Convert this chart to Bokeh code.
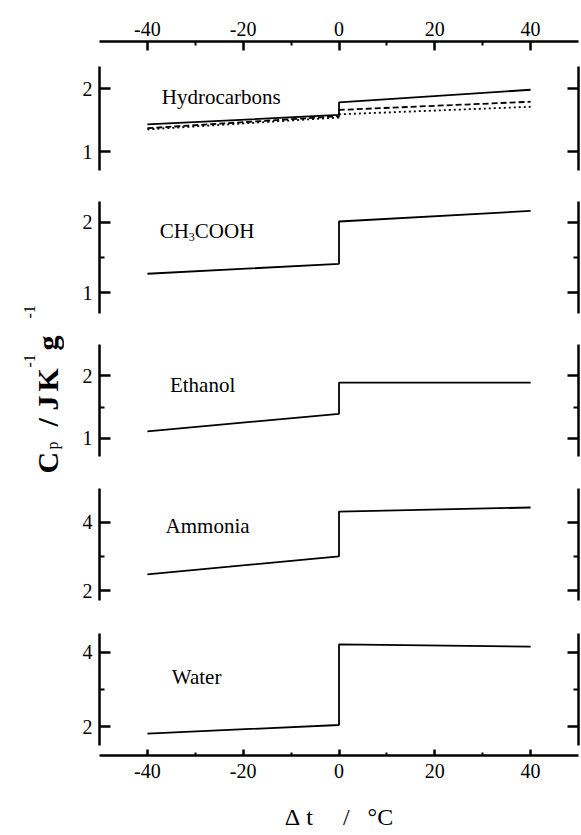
import numpy as np
from bokeh.plotting import figure
from bokeh.layouts import row, column
from bokeh.models import Range1d, FixedTicker, LinearAxis, CustomLabelingPolicy
from bokeh.embed import file_html
from bokeh.resources import INLINE
from bokeh.core.properties import value

FONT = "Liberation Serif"

# ---------------- data ----------------
x_pts = [-40, 0, 0, 40]           # deg C: start, melting (solid), melting (liquid), end
hc_solid = [1.43, 1.58, 1.78, 1.98]
hc_dashed = [1.37, 1.56, 1.66, 1.79]
hc_dotted = [1.35, 1.54, 1.59, 1.71]
acetic = [1.27, 1.41, 2.01, 2.16]
ethanol = [1.11, 1.39, 1.89, 1.89]
ammonia = [2.47, 3.00, 4.31, 4.43]
water = [1.81, 2.04, 4.21, 4.15]

x_ticks = [-40, -20, 0, 20, 40]
x_minor = [-30, -10, 10, 30]
x_tick_labels = {-40: "-40", -20: "-20", 0: "0", 20: "20", 40: "40"}

panel_names = ["Hydrocarbons", "CH3COOH", "Ethanol", "Ammonia", "Water"]
panel_series = [
    [(hc_solid, None), (hc_dashed, "6 3"), (hc_dotted, "2 3")],
    [(acetic, None)],
    [(ethanol, None)],
    [(ammonia, None)],
    [(water, None)],
]
panel_ticks = [[1, 2], [1, 2], [1, 2], [2, 4], [2, 4]]
panel_minor = [[], [1.5], [1.5], [3], [3]]
panel_bounds = [(0.7, 2.35), (0.7, 2.3), (0.7, 2.5), (1.7, 5.0), (1.5, 4.5)]
label_pos = [(-37.0, 1.86), (-37.4, 1.88), (-35.3, 1.845), (-36.2, 3.9), (-34.9, 3.33)]

x_title = "\u0394\u00a0t\u00a0\u00a0\u00a0\u00a0\u00a0/\u00a0\u00a0\u00a0\u00b0C"

# ---------------- layout geometry (page pixels) ----------------
TOTAL_H = 835
W_TITLE = 64
FRAME_L = 35
FRAME_W = 479
BORDER_R = 3
# (fig_top, frame_top, frame_bottom, fig_bottom, ref_value, ref_px, px_per_unit)
geom = [
    (0, 41, 185, 185, 2, 88.0, 63.0),
    (185, 185, 329, 329, 2, 221.7, 70.6),
    (329, 329, 472, 472, 2, 375.3, 62.4),
    (472, 472, 616, 616, 4, 521.7, 34.15),
    (616, 616, 755, TOTAL_H, 4, 651.7, 37.15),
]


def style_axis(ax, tick_in, minor_in, labels=True, size="20px", standoff=7):
    ax.axis_line_width = 2.5
    ax.axis_line_color = "black"
    ax.major_tick_in = tick_in
    ax.major_tick_out = 0
    ax.minor_tick_in = minor_in
    ax.minor_tick_out = 0
    ax.major_tick_line_width = 2.5
    ax.minor_tick_line_width = 2.0
    ax.major_tick_line_color = "black"
    ax.minor_tick_line_color = "black"
    ax.major_label_text_font = FONT
    ax.major_label_text_color = "black"
    ax.major_label_text_font_size = size
    if labels:
        ax.major_label_standoff = standoff
    else:
        ax.major_label_standoff = 0
        ax.major_label_policy = CustomLabelingPolicy(code="return []")


figs = []
for i in range(5):
    fig_top, fr_top, fr_bot, fig_bot, rv, rpx, ppu = geom[i]
    y0 = rv - (fr_bot - rpx) / ppu
    y1 = rv + (rpx - fr_top) / ppu
    p = figure(frame_width=FRAME_W, frame_height=fr_bot - fr_top,
               x_range=Range1d(-50, 50), y_range=Range1d(y0, y1),
               x_axis_type=None, y_axis_type=None,
               output_backend="svg", toolbar_location=None,
               min_border_left=FRAME_L, min_border_right=BORDER_R,
               min_border_top=fr_top - fig_top, min_border_bottom=fig_bot - fr_bot)
    p.outline_line_color = None
    p.background_fill_color = "white"
    p.border_fill_color = "white"

    yt = FixedTicker(ticks=panel_ticks[i], minor_ticks=panel_minor[i])
    la = LinearAxis(ticker=yt, bounds=panel_bounds[i])
    style_axis(la, 11, 5, labels=True, size="20px", standoff=7)
    p.add_layout(la, "left")
    ra = LinearAxis(ticker=yt, bounds=panel_bounds[i])
    style_axis(ra, 11, 5, labels=False)
    p.add_layout(ra, "right")

    if i == 0:
        xt = FixedTicker(ticks=x_ticks, minor_ticks=x_minor)
        ta = LinearAxis(ticker=xt, major_label_overrides=x_tick_labels)
        style_axis(ta, 9, 4, labels=True, size="20px", standoff=6)
        p.add_layout(ta, "above")
    if i == 4:
        xt = FixedTicker(ticks=x_ticks, minor_ticks=x_minor)
        ba = LinearAxis(ticker=xt, major_label_overrides=x_tick_labels)
        style_axis(ba, 6, 3, labels=True, size="20px", standoff=8)
        ba.axis_label = x_title
        ba.axis_label_text_font = FONT
        ba.axis_label_text_font_size = "24px"
        ba.axis_label_text_font_style = "normal"
        ba.axis_label_text_color = "black"
        ba.axis_label_standoff = 23
        p.add_layout(ba, "below")

    for ys, dash in panel_series[i]:
        p.line(x_pts, ys, line_width=1.8, line_color="black",
               line_dash=dash if dash else "solid")

    lx, ly = label_pos[i]
    if panel_names[i] == "CH3COOH":
        p.text([lx], [ly], text=["CH"], text_font=value(FONT), text_font_size="21px",
               text_color="black", text_baseline="alphabetic", text_align="left")
        p.text([lx], [ly], text=["3"], text_font=value(FONT), text_font_size="12px",
               text_color="black", text_baseline="alphabetic", text_align="left",
               x_offset=29, y_offset=6)
        p.text([lx], [ly], text=["COOH"], text_font=value(FONT), text_font_size="21px",
               text_color="black", text_baseline="alphabetic", text_align="left",
               x_offset=35)
    else:
        p.text([lx], [ly], text=[panel_names[i]], text_font=value(FONT),
               text_font_size="21px", text_color="black",
               text_baseline="alphabetic", text_align="left")
    figs.append(p)

# ---------------- y-axis title strip ----------------
yt_fig = figure(width=W_TITLE, height=TOTAL_H, x_range=Range1d(0, W_TITLE),
                y_range=Range1d(0, TOTAL_H), x_axis_type=None, y_axis_type=None,
                output_backend="svg", toolbar_location=None, min_border=0)
yt_fig.outline_line_color = None
yt_fig.grid.visible = False

# (text, page x of baseline, page y of start, size, bold)
title_parts = [
    ("C", 47, 473, "30px", True),
    ("p", 52, 449, "16px", False),
    ("/", 47, 426, "30px", True),
    ("J", 47, 410, "30px", True),
    ("K", 47, 391, "30px", True),
    ("-1", 29, 367, "16px", False),
    ("g", 47, 350, "30px", True),
    ("-1", 29, 318, "16px", False),
]
for txt, ix, iy, sz, bold in title_parts:
    yt_fig.text([ix], [TOTAL_H - iy], text=[txt], angle=np.pi / 2,
                text_font=value(FONT), text_font_size=sz,
                text_font_style="bold" if bold else "normal",
                text_color="black", text_align="left", text_baseline="alphabetic")

layout = row(yt_fig, column(*figs, spacing=0), spacing=0)

open("out.html", "w").write(file_html(layout, INLINE))
